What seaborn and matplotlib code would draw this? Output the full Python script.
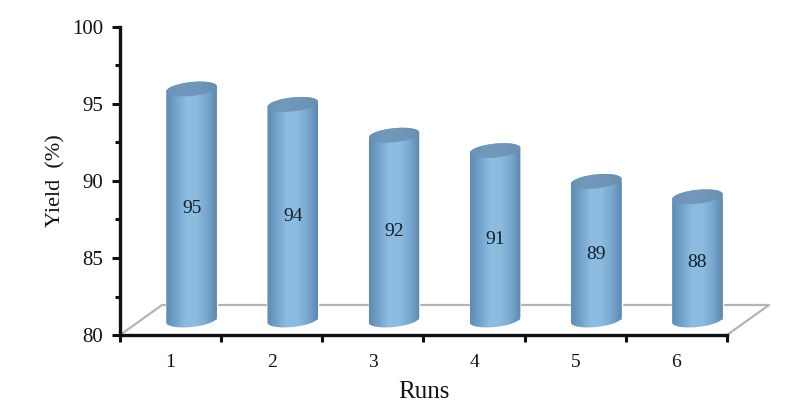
import numpy as np
import pandas as pd
import matplotlib
matplotlib.use('Agg')
import matplotlib.pyplot as plt
from matplotlib.colors import LinearSegmentedColormap
from matplotlib.patches import Polygon
from matplotlib.transforms import IdentityTransform, ScaledTranslation
from matplotlib.ticker import MultipleLocator
import seaborn as sns

runs = ['1', '2', '3', '4', '5', '6']
yields = [95, 94, 92, 91, 89, 88]

sns.set_style('white')
plt.rcParams['font.family'] = ['Liberation Serif', 'DejaVu Serif']

W, H = 800, 411
fig = plt.figure(figsize=(W / 100, H / 100), dpi=100)
ax = fig.add_axes([120 / W, 1 - 335 / H, 607 / W, 308 / H])

df = pd.DataFrame({'run': runs, 'yield': yields})
sns.barplot(data=df, x='run', y='yield', color='#7aa9d0', width=0.5, ax=ax, zorder=3)
ax.set_xlim(-0.5, 5.5)
ax.set_ylim(80, 100)

# fake 3D look: bars sit back on the floor
dx, dy = 21, 15
offset = ScaledTranslation(dx / 100, dy / 100, fig.dpi_scale_trans)
shade = LinearSegmentedColormap.from_list(
    'cyl', ['#5d8cb3', '#74a4cb', '#8dbde2', '#8cbbdf', '#78a8cf', '#5c88ad'])
grad = np.linspace(0, 1, 128).reshape(1, -1)
cap = LinearSegmentedColormap.from_list('cap', ['#6a93b6', '#7299bb', '#6f96b8', '#6a8fb0'])
pix = IdentityTransform()

# floor outline
x0, y0 = ax.transData.transform((-0.5, 80))
x1, _ = ax.transData.transform((5.5, 80))
floor_x = [x0, x0 + 42, x1 + 42, x1]
floor_y = [y0, y0 + 30, y0 + 30, y0]
ax.plot(floor_x, floor_y, color='#b4b4b4', lw=1.6, transform=pix, clip_on=False, zorder=1)


def ellipse(cx, cy, a, b, t):
    # sheared so the right side sits a bit higher
    return np.column_stack([cx + a * np.cos(t), cy + b * np.sin(t) + 0.1 * a * np.cos(t)])


for patch, val in zip(ax.patches, yields):
    # bars start at the axis floor, not at zero
    patch.set_y(80)
    patch.set_height(val - 80)
    patch.set_transform(ax.transData + offset)
    patch.set_clip_on(False)
    left, _ = ax.transData.transform((patch.get_x(), 80))
    right, _ = ax.transData.transform((patch.get_x() + patch.get_width(), 80))
    _, bot = ax.transData.transform((0, 80))
    _, top = ax.transData.transform((0, val))
    cx = (left + right) / 2 + dx
    a = (right - left) / 2
    b = 7
    lower = ellipse(cx, bot + dy, a, b, np.linspace(np.pi, 2 * np.pi, 40))
    upper = ellipse(cx, top + dy, a, b, np.linspace(0, np.pi, 40))
    body = Polygon(np.vstack([lower, upper]), closed=True, transform=pix, fc='none', ec='none')
    ax.add_patch(body)
    im = ax.imshow(grad, cmap=shade, extent=(cx - a, cx + a, bot, top + dy + 12), aspect='auto',
                   transform=pix, zorder=4, interpolation='bilinear')
    im.set_clip_path(body)
    lid = Polygon(ellipse(cx, top + dy, a, b, np.linspace(0, 2 * np.pi, 80)), closed=True,
                  transform=pix, fc='none', ec='none')
    ax.add_patch(lid)
    im2 = ax.imshow(grad, cmap=cap, extent=(cx - a, cx + a, top, top + dy + 12), aspect='auto',
                    transform=pix, zorder=5, interpolation='bilinear')
    im2.set_clip_path(lid)
    ax.annotate(str(val), xy=(patch.get_x() + patch.get_width() / 2, (val + 80) / 2),
                xytext=(dx * 0.72, (dy - 4) * 0.72), textcoords='offset points', ha='center',
                va='center', fontsize=14, color='#10202c', zorder=6)

ax.set_xlim(-0.5, 5.5)
ax.set_ylim(80, 100)

for side in ['top', 'right']:
    ax.spines[side].set_visible(False)
for side in ['left', 'bottom']:
    ax.spines[side].set_linewidth(2.4)
    ax.spines[side].set_color('#111111')
    ax.spines[side].set_zorder(7)

# run labels in the middle, tick marks on the category edges
ax.set_xticks(np.arange(-0.5, 6, 1))
ax.set_xticklabels([])
ax.set_xticks(range(len(runs)), labels=runs, minor=True)
ax.tick_params(axis='x', which='major', direction='out', length=5, width=2.2, bottom=True, color='#111111')
ax.tick_params(axis='x', which='minor', length=0, pad=14, labelsize=14, colors='#111111')
ax.set_yticks([80, 85, 90, 95, 100])
ax.yaxis.set_minor_locator(MultipleLocator(2.5))
ax.tick_params(axis='y', which='major', direction='out', length=6, width=2.2, left=True,
               labelsize=15, pad=6, color='#111111', labelcolor='#111111')
ax.tick_params(axis='y', which='minor', direction='out', length=3.5, width=2.2, left=True, color='#111111')

ax.set_xlabel('Runs', fontsize=18, labelpad=7, color='#111111')
ax.set_ylabel('Yield  (%)', fontsize=16, labelpad=5, color='#111111')

fig.savefig('out.png', dpi=100, facecolor='white')
